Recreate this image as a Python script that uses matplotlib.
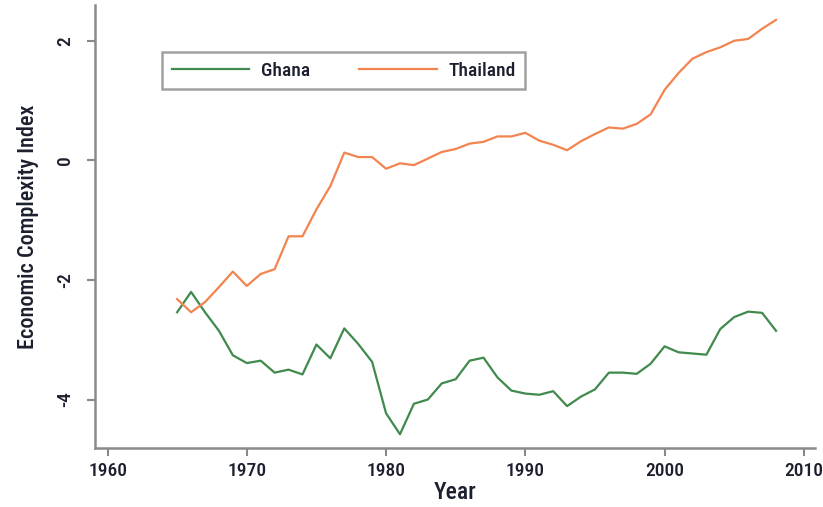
import matplotlib
matplotlib.use('Agg')
import matplotlib.pyplot as plt

plt.rcParams['font.family'] = ['Roboto Condensed', 'Archivo Narrow', 'Asap Condensed',
                               'Sofia Sans Condensed', 'DejaVu Sans']
plt.rcParams['font.weight'] = 'medium'
plt.rcParams['axes.labelweight'] = 'medium'

years = list(range(1965, 2009))
ghana = [-2.54, -2.20, -2.54, -2.85, -3.26, -3.39, -3.35, -3.55, -3.50, -3.58,
         -3.08, -3.31, -2.81, -3.07, -3.37, -4.23, -4.58, -4.07, -4.00, -3.73,
         -3.66, -3.35, -3.30, -3.63, -3.85, -3.90, -3.92, -3.86, -4.11, -3.95,
         -3.83, -3.55, -3.55, -3.57, -3.40, -3.11, -3.21, -3.23, -3.25, -2.82,
         -2.62, -2.53, -2.55, -2.85]
thailand = [-2.32, -2.54, -2.37, -2.12, -1.86, -2.10, -1.90, -1.82, -1.27, -1.27,
            -0.82, -0.43, 0.13, 0.055, 0.055, -0.14, -0.05, -0.08, 0.03, 0.14,
            0.19, 0.28, 0.31, 0.40, 0.40, 0.46, 0.33, 0.26, 0.17, 0.32,
            0.44, 0.55, 0.53, 0.61, 0.77, 1.18, 1.46, 1.70, 1.81, 1.89,
            2.00, 2.03, 2.20, 2.35]
xticks = [1960, 1970, 1980, 1990, 2000, 2010]
yticks = [-4, -2, 0, 2]

txt = '#1c1f2e'
grey = '#8a8a8a'

fig = plt.figure(figsize=(8.23, 5.07), dpi=100)
ax = fig.add_axes([0.1154, 0.1164, 0.8749, 0.874])

ax.plot(years, ghana, color='#3f8a4c', lw=1.6, label='Ghana')
ax.plot(years, thailand, color='#f2844f', lw=1.6, label='Thailand')

ax.set_xlim(1959.1, 2010.8)
ax.set_ylim(-4.81, 2.6)
ax.set_xticks(xticks)
ax.set_yticks(yticks)
ax.set_yticklabels([str(v) for v in yticks], rotation=90, va='center')

for s in ['top', 'right']:
    ax.spines[s].set_visible(False)
for s in ['left', 'bottom']:
    ax.spines[s].set_color(grey)
    ax.spines[s].set_linewidth(1.8)
ax.tick_params(colors=grey, width=1.5, length=6, labelcolor=txt, labelsize=14)
ax.tick_params(axis='x', pad=4)
ax.tick_params(axis='y', pad=9)

ax.set_xlabel('Year', fontsize=17, color=txt, labelpad=1)
ax.set_ylabel('Economic Complexity Index', fontsize=16, color=txt, labelpad=12)

leg = ax.legend(loc='upper left', bbox_to_anchor=(0.093, 0.894), ncol=2,
                frameon=True, fancybox=False, fontsize=14, handlelength=4.0,
                columnspacing=2.5, borderpad=0.5, handletextpad=0.6,
                borderaxespad=0)
leg.get_frame().set_edgecolor(grey)
leg.get_frame().set_linewidth(1.8)
for t in leg.get_texts():
    t.set_color(txt)

fig.savefig('out.png', dpi=100)
